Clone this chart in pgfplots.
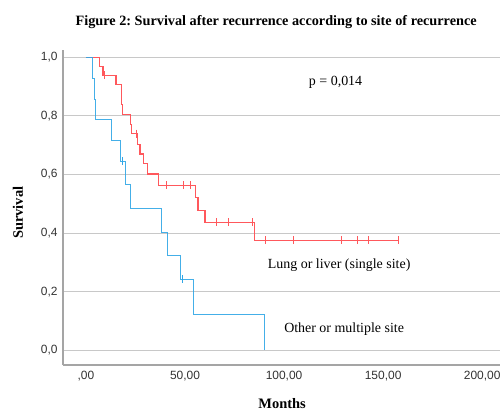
\documentclass[border=0pt]{standalone}
\usepackage{fontspec}
\setmainfont{Liberation Serif}
\setsansfont{Liberation Sans}
\usepackage{pgfplots}
\pgfplotsset{compat=1.18}
\definecolor{kmred}{RGB}{255,88,92}
\definecolor{kmblue}{RGB}{48,166,230}
\definecolor{gridgray}{RGB}{200,200,200}
\definecolor{axisgray}{RGB}{165,165,165}
\frenchspacing

\begin{document}
\begin{tikzpicture}
% page = 504 x 408 bp, axis box from (63,43) to (500,358) px
\useasboundingbox (-63bp,-50.3bp) rectangle (441bp,365bp);
\begin{axis}[
    scale only axis,
    width=437bp, height=314.7bp,
    xmin=-11.6, xmax=209,
    ymin=-0.05, ymax=1.024,
    axis lines=left,
    axis line style={-, draw=axisgray, line width=1.4bp},
    xtick={0,50,100,150,200},
    xticklabels={{,00},{50,00},{100,00},{150,00},{200,00}},
    ytick={0,0.2,0.4,0.6,0.8,1},
    yticklabels={{0,0},{0,2},{0,4},{0,6},{0,8},{1,0}},
    major tick length=0pt,
    ymajorgrids,
    grid style={gridgray, line width=1.1bp},
    tick label style={font=\sffamily\fontsize{12}{14}\selectfont, text=black!80},
    xticklabel style={yshift=-3bp},
    yticklabel style={xshift=-2bp},
    clip=false,
]
% Lung or liver (single site)
\addplot[const plot, kmred, line width=1.2bp] coordinates {
    (0,1) (7,0.969) (8.6,0.938) (15.2,0.906) (18,0.840) (18.5,0.806)
    (22.6,0.772) (23.1,0.740) (26,0.703) (27.3,0.670) (29,0.637) (31,0.602)
    (36.5,0.563) (55.3,0.522) (56.5,0.478) (60.1,0.437) (85,0.375) (158,0.375)
};
\addplot[only marks, mark=|, mark size=4bp, kmred, line width=1bp] coordinates {
    (9.6,0.938) (25.3,0.740) (40.4,0.563) (49.1,0.563) (53,0.563)
    (66,0.437) (71.8,0.437) (84,0.437) (90.7,0.375) (104.6,0.375)
    (128.8,0.375) (137.2,0.375) (142.6,0.375) (157.7,0.375)
};
% Other or multiple site
\addplot[const plot, kmblue, line width=1.2bp, opacity=0.9] coordinates {
    (0,1) (3.2,0.929) (4.2,0.857) (5,0.788) (13,0.715) (17.5,0.645)
    (20,0.565) (22.6,0.485) (38.2,0.403) (41.3,0.324) (47.8,0.243)
    (54.2,0.123) (90.2,0)
};
\addplot[only marks, mark=|, mark size=4bp, kmblue, line width=1bp] coordinates {
    (18.4,0.645) (48.6,0.243)
};
\node[font=\bfseries\fontsize{14.3}{16}\selectfont] at (axis cs:96,1.122)
    {Figure 2: Survival after recurrence according to site of recurrence};
\node[font=\fontsize{14}{16}\selectfont] at (axis cs:126,0.915) {p = 0,014};
\node[font=\fontsize{14}{16}\selectfont] at (axis cs:127.8,0.29) {Lung or liver (single site)};
\node[font=\fontsize{14}{16}\selectfont] at (axis cs:130.3,0.072) {Other or multiple site};
\node[font=\bfseries\fontsize{14.5}{16}\selectfont, rotate=90] at (axis cs:-34.3,0.47) {Survival};
\node[font=\bfseries\fontsize{14.5}{16}\selectfont] at (axis cs:99,-0.183) {Months};
\end{axis}
\end{tikzpicture}
\end{document}
